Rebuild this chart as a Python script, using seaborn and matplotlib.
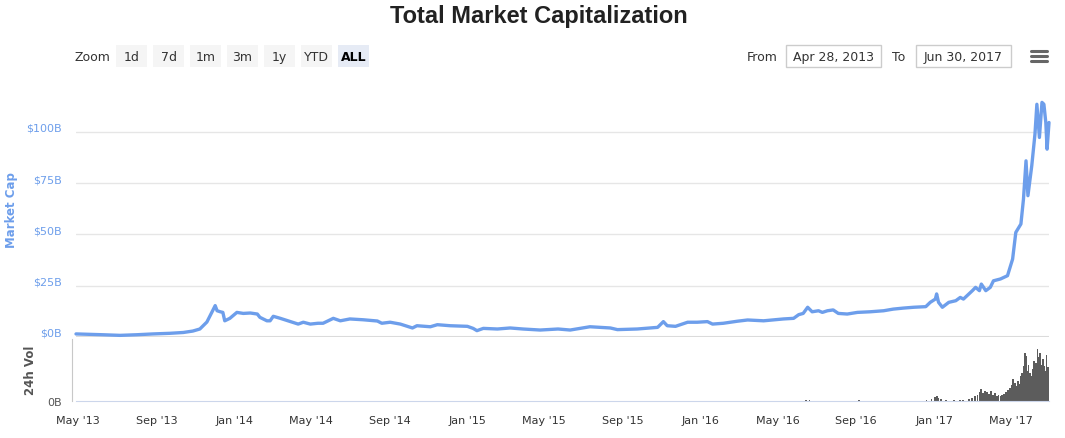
import numpy as np
import pandas as pd
import matplotlib
matplotlib.use("Agg")
import matplotlib.pyplot as plt
import matplotlib.dates as mdates
from matplotlib.patches import Rectangle
from matplotlib.transforms import ScaledTranslation
import seaborn as sns

# -----------------------------
# DATA
# -----------------------------
cap_dates = [
    "2013-04-28", "2013-06-09", "2013-07-06", "2013-08-01", "2013-08-27", "2013-09-22",
    "2013-10-13", "2013-10-28", "2013-11-08", "2013-11-19", "2013-11-27", "2013-12-02",
    "2013-12-05", "2013-12-10", "2013-12-14", "2013-12-17", "2013-12-25",
    "2014-01-05", "2014-01-15", "2014-01-26", "2014-02-06", "2014-02-10", "2014-02-21",
    "2014-02-26", "2014-03-03", "2014-03-14", "2014-03-29", "2014-04-11", "2014-04-19",
    "2014-04-30", "2014-05-12", "2014-05-20", "2014-06-05", "2014-06-16", "2014-07-01",
    "2014-07-22", "2014-08-13", "2014-08-20", "2014-09-02", "2014-09-18", "2014-10-07",
    "2014-10-14", "2014-11-04", "2014-11-15", "2014-12-05",
    "2015-01-01", "2015-01-10", "2015-01-16", "2015-01-26", "2015-02-17", "2015-03-09",
    "2015-03-29", "2015-04-25", "2015-05-23", "2015-06-11", "2015-07-12", "2015-08-13",
    "2015-08-24", "2015-09-24", "2015-10-26", "2015-11-04", "2015-11-10", "2015-11-23",
    "2015-12-12", "2015-12-27",
    "2016-01-12", "2016-01-20", "2016-02-06", "2016-02-28", "2016-03-15", "2016-04-09",
    "2016-05-10", "2016-05-26", "2016-06-03", "2016-06-10", "2016-06-17", "2016-06-24",
    "2016-07-04", "2016-07-10", "2016-07-18", "2016-07-27", "2016-08-04", "2016-08-18",
    "2016-09-03", "2016-09-23", "2016-10-14", "2016-10-29", "2016-11-14", "2016-11-30",
    "2016-12-19", "2016-12-26",
    "2017-01-03", "2017-01-05", "2017-01-08", "2017-01-14", "2017-01-24", "2017-02-04",
    "2017-02-11", "2017-02-16", "2017-03-02", "2017-03-07", "2017-03-13", "2017-03-16",
    "2017-03-23", "2017-03-30", "2017-04-04", "2017-04-15", "2017-04-26", "2017-05-04",
    "2017-05-09", "2017-05-17", "2017-05-21", "2017-05-25", "2017-05-28", "2017-06-03",
    "2017-06-08", "2017-06-11", "2017-06-15", "2017-06-19", "2017-06-22", "2017-06-25",
    "2017-06-27", "2017-06-30",
]
cap_values = [  # $B
    1.5, 1.1, 0.8, 1.1, 1.5, 1.8, 2.2, 2.9, 3.9, 7.3, 12.2, 15.3, 12.8, 12.3, 12.0, 7.9, 9.1,
    12.0, 11.5, 11.7, 11.2, 9.6, 7.9, 7.9, 10.1, 9.1, 7.6, 6.3, 7.2, 6.3, 6.7, 6.7, 9.1,
    7.9, 8.8, 8.4, 7.8, 6.7, 7.2, 6.3, 4.4, 5.5, 5.0, 6.0, 5.5,
    5.2, 4.2, 3.1, 4.2, 3.9, 4.4, 3.9, 3.4, 3.9, 3.4, 5.0, 4.4, 3.6, 3.9, 4.7, 7.5, 5.5,
    5.2, 7.2, 7.2,
    7.5, 6.3, 6.7, 7.7, 8.3, 7.9, 8.8, 9.1, 10.9, 11.5, 14.5, 12.3, 12.8, 12.0, 12.8,
    13.2, 11.5, 11.2, 12.0, 12.3, 12.8, 13.6, 14.1, 14.5, 14.8, 16.9,
    18.5, 21.0, 16.9, 14.5, 16.9, 17.7, 19.3, 18.5, 22.6, 24.2, 22.6, 25.8, 22.6, 24.2,
    27.4, 28.3, 29.9, 38.0, 51.0, 55.1, 67.2, 85.9, 68.9, 83.5, 98.9, 113.5, 97.3,
    114.4, 113.5, 104.6, 91.6, 104.6,
]

vol_dates = [
    "2016-06-01", "2016-06-15", "2016-06-20", "2016-07-01", "2016-08-01", "2016-09-05",
    "2016-10-01", "2016-11-01", "2016-12-01", "2016-12-20", "2016-12-28", "2017-01-03",
    "2017-01-05", "2017-01-08", "2017-01-12", "2017-01-20", "2017-02-01", "2017-02-10",
    "2017-02-15", "2017-02-25", "2017-03-02", "2017-03-06", "2017-03-10", "2017-03-13",
    "2017-03-16", "2017-03-19", "2017-03-22", "2017-03-25", "2017-03-28", "2017-03-31",
    "2017-04-03", "2017-04-06", "2017-04-09", "2017-04-12", "2017-04-15", "2017-04-18",
    "2017-04-21", "2017-04-24", "2017-04-27", "2017-04-30", "2017-05-03", "2017-05-05",
    "2017-05-08", "2017-05-10", "2017-05-13", "2017-05-15", "2017-05-17", "2017-05-19",
    "2017-05-21", "2017-05-23", "2017-05-25", "2017-05-27", "2017-05-29", "2017-05-31",
    "2017-06-02", "2017-06-04", "2017-06-06", "2017-06-08", "2017-06-10", "2017-06-12",
    "2017-06-14", "2017-06-16", "2017-06-18", "2017-06-20", "2017-06-22", "2017-06-24",
    "2017-06-26", "2017-06-28", "2017-06-30",
]
vol_values = [  # $B
    0.05, 0.15, 0.1, 0.05, 0.03, 0.08, 0.03, 0.03, 0.05, 0.15, 0.25, 0.4,
    0.5, 0.3, 0.2, 0.1, 0.1, 0.15, 0.1, 0.2, 0.3, 0.5, 0.6, 0.9,
    1.2, 0.8, 1.0, 0.9, 0.7, 1.0, 0.6, 0.8, 0.5, 0.6, 0.5, 0.6,
    0.7, 0.9, 1.1, 1.3, 1.6, 2.2, 1.8, 1.5, 2.0, 1.7, 2.5, 2.8,
    3.5, 4.8, 4.5, 3.0, 3.6, 2.8, 2.5, 3.2, 4.0, 3.0, 3.8, 5.2,
    4.4, 4.8, 3.6, 4.2, 3.5, 3.0, 4.6, 3.4, 2.8,
]

x_ticks = ["2013-05-01", "2013-09-01", "2014-01-01", "2014-05-01", "2014-09-01",
           "2015-01-01", "2015-05-01", "2015-09-01", "2016-01-01", "2016-05-01",
           "2016-09-01", "2017-01-01", "2017-05-01"]
x_tick_labels = ["May '13", "Sep '13", "Jan '14", "May '14", "Sep '14", "Jan '15",
                 "May '15", "Sep '15", "Jan '16", "May '16", "Sep '16", "Jan '17", "May '17"]
y_ticks = [0, 25, 50, 75, 100]
y_tick_labels = ["$0B", "$25B", "$50B", "$75B", "$100B"]

zoom_buttons = ["1d", "7d", "1m", "3m", "1y", "YTD", "ALL"]
date_from = "Apr 28, 2013"
date_to = "Jun 30, 2017"

cap = pd.DataFrame({"date": pd.to_datetime(cap_dates), "cap": cap_values})
vol = pd.DataFrame({"date": pd.to_datetime(vol_dates), "vol": vol_values})

# -----------------------------
# FIGURE
# -----------------------------
sns.set_style("white")
plt.rcParams["font.family"] = ["DejaVu Sans"]

W, H = 1065, 439
fig = plt.figure(figsize=(W / 100, H / 100), dpi=100)


def fx(x):
    return x / W


def fy(y):
    return 1 - y / H


blue = "#6d9eeb"
ax = fig.add_axes([fx(76), fy(338), fx(1049) - fx(76), fy(95) - fy(338)])
axv = fig.add_axes([fx(76), fy(402), fx(1049) - fx(76), fy(340) - fy(402)], sharex=ax)

sns.lineplot(data=cap, x="date", y="cap", ax=ax, color=blue, linewidth=2.4)
for ln in ax.lines:
    ln.set_clip_on(False)

ax.set_xlim(pd.Timestamp("2013-04-28"), pd.Timestamp("2017-06-30"))
ax.set_ylim(0, 118.5)
ax.set_yticks(y_ticks)
ax.set_yticklabels(y_tick_labels)
ax.tick_params(axis="y", length=0, pad=10, labelsize=8, labelcolor=blue)
ax.tick_params(axis="x", length=0, labelbottom=False)
ax.yaxis.grid(True, color="#e6e6e6", linewidth=1)
ax.set_axisbelow(True)
ax.axhline(0, color="#d9d9d9", linewidth=2.2, zorder=0)
for s in ax.spines.values():
    s.set_visible(False)
ax.set_xlabel("")
ax.set_ylabel("")
shift = ScaledTranslation(0, 5 / 100, fig.dpi_scale_trans)
for lab in ax.get_yticklabels():
    lab.set_transform(lab.get_transform() + shift)

# volume pane
axv.bar(vol["date"], vol["vol"], width=2.8, color="#5c5c5c", linewidth=0)
axv.set_ylim(0, 6.2)
axv.set_yticks([0])
axv.set_yticklabels(["0B"])
axv.tick_params(axis="y", length=0, pad=7, labelsize=8, labelcolor="#555555")
for lab in axv.get_yticklabels():
    lab.set_transform(lab.get_transform() + shift)
axv.set_xticks(pd.to_datetime(x_ticks))
axv.set_xticklabels(x_tick_labels)
axv.tick_params(axis="x", direction="out", length=7, width=1, color="#ccd6eb",
                labelsize=8, labelcolor="#333333", pad=3)
for side in ["top", "right"]:
    axv.spines[side].set_visible(False)
axv.spines["left"].set_color("#c8c8c8")
axv.spines["bottom"].set_color("#ccd6eb")
axv.spines["left"].set_position(("outward", 3))

# axis titles
fig.text(fx(12), fy(210), "Market Cap", rotation=90, ha="center", va="center",
         color=blue, fontsize=8.5, fontweight="bold")
fig.text(fx(30), fy(370), "24h Vol", rotation=90, ha="center", va="center",
         color="#555555", fontsize=8.5, fontweight="bold")

# title
fig.text(fx(539), fy(17), "Total Market Capitalization", ha="center", va="center",
         fontsize=17, fontweight="bold", color="#222222", family="Liberation Sans")

# range selector buttons
base = fy(61)
fig.text(fx(92), base, "Zoom", ha="center", va="baseline", fontsize=9, color="#333333")
for i, b in enumerate(zoom_buttons):
    x0 = 116 + 37 * i
    sel = b == "ALL"
    fig.patches.append(Rectangle((fx(x0), fy(68)), fx(31), fy(46) - fy(68),
                                 transform=fig.transFigure,
                                 facecolor="#e6ebf5" if sel else "#f5f5f5",
                                 edgecolor="none"))
    fig.text(fx(x0 + 15.5), base, b, ha="center", va="baseline", fontsize=9,
             color="#000000" if sel else "#333333",
             fontweight="bold" if sel else "normal")

# date inputs
fig.text(fx(762), base, "From", ha="center", va="baseline", fontsize=9, color="#333333")
fig.text(fx(899), base, "To", ha="center", va="baseline", fontsize=9, color="#333333")
for x0, txt in [(786, date_from), (916, date_to)]:
    fig.patches.append(Rectangle((fx(x0), fy(68)), fx(95), fy(46) - fy(68),
                                 transform=fig.transFigure, facecolor="white",
                                 edgecolor="#cccccc", linewidth=1))
    fig.text(fx(x0 + 47.5), base, txt, ha="center", va="baseline", fontsize=9,
             color="#333333")

# menu icon
for yy in [52, 57, 62]:
    fig.lines.append(plt.Line2D([fx(1031), fx(1047)], [fy(yy), fy(yy)],
                                transform=fig.transFigure, color="#666666",
                                linewidth=2.2, solid_capstyle="round"))

fig.savefig("out.png", dpi=100)
